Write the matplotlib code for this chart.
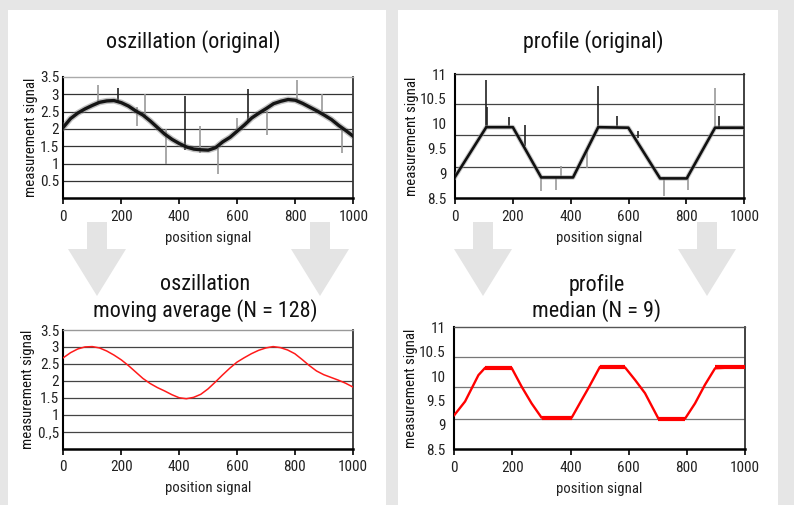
import numpy as np
import matplotlib.pyplot as plt
from matplotlib import font_manager
from matplotlib.patches import Rectangle, Polygon

# the original uses a narrow sans; take one if it is installed
names = {f.name for f in font_manager.fontManager.ttflist}
narrow = [n for n in ['Liberation Sans Narrow', 'Roboto Condensed', 'Open Sans Condensed',
                      'Arial Narrow'] if n in names]
if narrow:
    plt.rcParams['font.family'] = [narrow[0], 'DejaVu Sans']
    TICK, LAB, TITLE = 11.0, 10.6, 15.9
else:
    plt.rcParams['font.family'] = ['Liberation Sans', 'DejaVu Sans']
    TICK, LAB, TITLE = 9.0, 9.3, 14.5

W, H = 794, 505
BG = '#e6e6e6'

# oscillation, raw signal (centre of the noisy band)
osc_x = [0, 25, 50, 75, 100, 125, 150, 175, 200, 225, 250, 275, 300, 325, 350, 375, 400,
         425, 450, 475, 500, 525, 550, 575, 600, 625, 650, 675, 700, 725, 750, 775, 800,
         825, 850, 875, 900, 925, 950, 975, 1000]
osc_y = [2.05, 2.30, 2.46, 2.58, 2.68, 2.77, 2.81, 2.82, 2.76, 2.66, 2.52, 2.40, 2.23,
         2.04, 1.85, 1.70, 1.58, 1.48, 1.42, 1.40, 1.39, 1.46, 1.63, 1.76, 1.94, 2.12,
         2.32, 2.46, 2.59, 2.73, 2.80, 2.85, 2.83, 2.74, 2.63, 2.52, 2.40, 2.27, 2.10,
         1.95, 1.79]
# outliers in the raw oscillation
osc_spike_x = [121, 187, 253, 282, 354, 420, 472, 535, 598, 638, 701, 805, 893, 960]
osc_spike_lo = [2.73, 2.78, 2.09, 2.36, 1.00, 1.40, 1.30, 0.71, 1.89, 2.24, 1.84, 2.83, 2.53, 1.30]
osc_spike_hi = [3.27, 3.17, 2.63, 3.02, 1.99, 2.95, 2.09, 1.45, 2.33, 3.14, 2.53, 3.42, 3.02, 1.99]
osc_spike_dark = [0, 1, 0, 0, 0, 1, 0, 0, 0, 1, 0, 0, 0, 0]

# oscillation after moving average (N = 128)
avg_x = osc_x
avg_y = [2.68, 2.83, 2.94, 3.00, 3.01, 2.97, 2.88, 2.76, 2.62, 2.45, 2.26, 2.07, 1.92,
         1.80, 1.70, 1.59, 1.50, 1.47, 1.51, 1.60, 1.76, 1.96, 2.17, 2.37, 2.55, 2.68,
         2.80, 2.90, 2.97, 3.01, 2.98, 2.91, 2.80, 2.63, 2.45, 2.29, 2.18, 2.10, 2.02,
         1.93, 1.82]

# profile, raw signal
prof_x = [0, 108, 200, 298, 408, 495, 599, 709, 801, 899, 1000]
prof_y = [8.93, 9.93, 9.93, 8.92, 8.92, 9.93, 9.92, 8.90, 8.90, 9.92, 9.92]
prof_spike_x = [108, 112, 187, 241, 298, 350, 367, 457, 494, 559, 632, 721, 805, 897, 913]
prof_spike_lo = [9.93, 9.93, 9.93, 9.55, 8.65, 8.67, 8.92, 9.11, 9.93, 9.93, 9.71, 8.54, 8.67, 9.92, 9.92]
prof_spike_hi = [10.87, 10.33, 10.13, 9.97, 8.95, 8.92, 9.14, 9.45, 10.75, 10.15, 9.85, 8.92, 8.92, 10.72, 10.15]
prof_spike_dark = [1, 1, 1, 1, 0, 0, 0, 0, 1, 1, 1, 0, 0, 0, 1]

# profile after median filter (N = 9)
med_x = [0, 37, 60, 83, 106, 197, 232, 266, 300, 404, 438, 461, 501,
         587, 622, 656, 702, 794, 828, 862, 897, 1000]
med_y = [9.20, 9.48, 9.75, 10.02, 10.17, 10.17, 9.78, 9.44, 9.15, 9.15, 9.51, 9.75, 10.19,
         10.18, 9.92, 9.65, 9.13, 9.13, 9.44, 9.82, 10.16, 10.19]
# flat stretches, where the remaining noise makes the band wider
med_flat_x0 = [106, 300, 501, 702, 897]
med_flat_x1 = [197, 404, 587, 794, 1000]
med_flat_y = [10.17, 9.15, 10.18, 9.13, 10.19]

xticks = [0, 200, 400, 600, 800, 1000]
osc_ticks = [0.5, 1, 1.5, 2, 2.5, 3, 3.5]
osc_labels_top = ['0.5', '1', '1.5', '2', '2.5', '3', '3.5']
osc_labels_bot = ['0.,5', '1', '1.5', '2', '2.5', '3', '3.5']
prof_ticks = [8.5, 9, 9.5, 10, 10.5, 11]
prof_labels = ['8.5', '9', '9.5', '10', '10.5', '11']
osc_grid = [0.5, 1, 1.5, 2, 2.5, 3]
prof_grid = [10.4, 9.78, 9.12]


def fx(x):
    return x / W


def fy(y):
    return 1 - y / H


def box(l, t, r, b):
    return [fx(l), fy(b), fx(r) - fx(l), fy(t) - fy(b)]


fig = plt.figure(figsize=(W / 100, H / 100), dpi=100, facecolor=BG)

# white panels
for l, r in [(8, 386), (398, 778)]:
    fig.patches.append(Rectangle((fx(l), 0), fx(r) - fx(l), fy(10), transform=fig.transFigure,
                                 facecolor='white', edgecolor='none', zorder=-2))

# big grey arrows between the rows
for cx in [97, 320, 483, 707]:
    pts = [(cx - 10, 222), (cx + 10, 222), (cx + 10, 249), (cx + 29, 249),
           (cx, 296), (cx - 29, 249), (cx - 10, 249)]
    fig.patches.append(Polygon([(fx(a), fy(b)) for a, b in pts], closed=True,
                               transform=fig.transFigure, facecolor='#e4e4e4',
                               edgecolor='none', zorder=-1))


def style(ax, ylim, yt, ylab, grid, gcol, topcol):
    ax.set_zorder(2)
    ax.set_xlim(0, 1000)
    ax.set_ylim(*ylim)
    ax.set_xticks(xticks)
    ax.set_yticks(yt)
    ax.set_yticklabels(ylab)
    for g in grid:
        ax.axhline(g, color=gcol, lw=0.9, zorder=1)
    ax.tick_params(axis='x', direction='out', length=4, width=1.2, pad=4.5,
                   labelsize=TICK, colors='black', labelcolor='#222')
    ax.tick_params(axis='y', length=0, pad=3, labelsize=TICK, labelcolor='#222')
    ax.spines['left'].set_linewidth(1.5)
    ax.spines['bottom'].set_linewidth(1.8)
    ax.spines['top'].set_color(topcol)
    ax.spines['top'].set_linewidth(1.0)
    ax.spines['right'].set_color('#333')
    ax.spines['right'].set_linewidth(1.3)
    ax.set_xlabel('position signal', fontsize=LAB, labelpad=5, color='#222')
    ax.set_ylabel('measurement signal', fontsize=LAB, labelpad=1, color='#111')


# oscillation (original)
ax1 = fig.add_axes(box(63.3, 77, 353.3, 198.3))
style(ax1, (0, 3.5), osc_ticks, osc_labels_top, osc_grid, '#333', '#aaaaaa')
for x, lo, hi, d in zip(osc_spike_x, osc_spike_lo, osc_spike_hi, osc_spike_dark):
    ax1.vlines(x, lo, hi, color='#222' if d else '#9a9a9a', lw=1.2, zorder=2)
ax1.plot(osc_x, osc_y, color='#777777', lw=4.4, alpha=0.45, zorder=3)
ax1.plot(osc_x, osc_y, color='#151515', lw=2.4, zorder=4)

# profile (original)
ax2 = fig.add_axes(box(455, 74, 744.3, 198.3))
style(ax2, (8.5, 11), prof_ticks, prof_labels, prof_grid, '#444', '#333')
ax2.tick_params(axis='y', pad=6)
for x, lo, hi, d in zip(prof_spike_x, prof_spike_lo, prof_spike_hi, prof_spike_dark):
    ax2.vlines(x, lo, hi, color='#222' if d else '#9a9a9a', lw=1.2, zorder=2)
ax2.plot(prof_x, prof_y, color='#999999', lw=3.4, alpha=0.5, zorder=3)
ax2.plot(prof_x, prof_y, color='#111111', lw=1.9, zorder=4)

# oscillation, moving average
ax3 = fig.add_axes(box(63.3, 330, 352.7, 448.5))
style(ax3, (0, 3.5), osc_ticks, osc_labels_bot, osc_grid, '#444', '#999999')
ax3.plot(avg_x, avg_y, color='#ff1a1a', lw=1.1, zorder=4)

# profile, median
ax4 = fig.add_axes(box(454.3, 327.3, 745, 449.3))
style(ax4, (8.5, 11), prof_ticks, prof_labels, prof_grid, '#777', '#555')
ax4.tick_params(axis='y', pad=6)
ax4.plot(med_x, med_y, color='#ff0000', lw=1.7, zorder=4)
for a, b, y in zip(med_flat_x0, med_flat_x1, med_flat_y):
    ax4.plot([a, b], [y, y], color='#ff0000', lw=3.0, zorder=4, solid_capstyle='butt')

# titles
tkw = dict(ha='center', va='center', fontsize=TITLE, color='#111')
fig.text(fx(193), fy(42), 'oszillation (original)', **tkw)
fig.text(fx(593), fy(42), 'profile (original)', **tkw)
fig.text(fx(205), fy(285), 'oszillation', **tkw)
fig.text(fx(205), fy(311), 'moving average (N = 128)', **tkw)
fig.text(fx(597), fy(285), 'profile', **tkw)
fig.text(fx(597), fy(311), 'median (N = 9)', **tkw)

fig.savefig('out.png', dpi=100, facecolor=BG)
